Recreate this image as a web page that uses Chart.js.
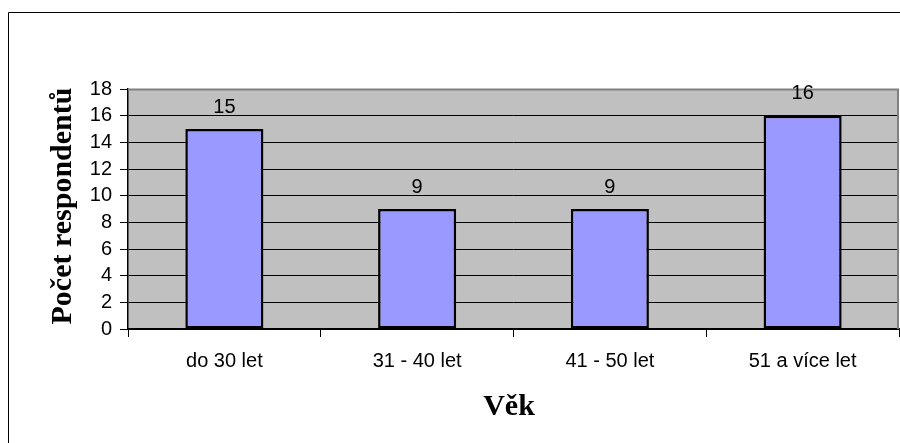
<!DOCTYPE html>
<html>
<head>
<meta charset="utf-8">
<script src="https://cdn.jsdelivr.net/npm/chart.js@4/dist/chart.umd.min.js"></script>
<style>
  html, body { margin: 0; padding: 0; background: #fff; }
  #wrap { width: 900px; height: 443px; position: relative; }
</style>
</head>
<body>
<div id="wrap"><canvas id="ageChart"></canvas></div>
<script>
const categories = ["do 30 let", "31 - 40 let", "41 - 50 let", "51 a více let"];
const respondents = [15, 9, 9, 16];
const yTitle = "Počet respondentů";
const xTitle = "Věk";

const sansFont = "'Liberation Sans', Arial, sans-serif";
const serifFont = "'Liberation Serif', 'Times New Roman', serif";

// background, frame and plot fill
const backdrop = {
  id: "backdrop",
  beforeDraw(chart) {
    const { ctx, chartArea: a } = chart;
    ctx.save();
    ctx.fillStyle = "#c0c0c0";
    ctx.fillRect(a.left, a.top, a.right - a.left, a.bottom - a.top);
    ctx.strokeStyle = "#000";
    ctx.lineWidth = 1;
    ctx.beginPath();
    ctx.moveTo(8.5, 443);
    ctx.lineTo(8.5, 12.5);
    ctx.lineTo(900, 12.5);
    ctx.stroke();
    ctx.restore();
  },
  beforeDatasetsDraw(chart) {
    const { ctx, chartArea: a } = chart;
    ctx.save();
    ctx.strokeStyle = "#808080";
    ctx.lineWidth = 2;
    ctx.beginPath();
    ctx.moveTo(a.left, a.top + 0.5);
    ctx.lineTo(a.right - 1, a.top + 0.5);
    ctx.lineTo(a.right - 1, a.bottom);
    ctx.stroke();
    ctx.restore();
  }
};

// value labels above the bars, axis titles
const labelsAndTitles = {
  id: "labelsAndTitles",
  afterDatasetsDraw(chart) {
    const { ctx } = chart;
    const meta = chart.getDatasetMeta(0);
    ctx.save();
    ctx.fillStyle = "#000";
    ctx.font = "20px " + sansFont;
    ctx.textAlign = "center";
    ctx.textBaseline = "middle";
    meta.data.forEach((bar, i) => {
      ctx.fillText(String(respondents[i]), bar.x, bar.y - 22);
    });

    ctx.font = "bold 30px " + serifFont;
    ctx.textBaseline = "alphabetic";
    ctx.fillText(xTitle, 509, 415);

    ctx.translate(71, 206);
    ctx.rotate(-Math.PI / 2);
    ctx.fillText(yTitle, 0, 0);
    ctx.restore();
  }
};

new Chart(document.getElementById("ageChart"), {
  type: "bar",
  data: {
    labels: categories,
    datasets: [{
      data: respondents,
      backgroundColor: "#9999ff",
      borderColor: "#000",
      borderWidth: 2.5,
      borderSkipped: false,
      categoryPercentage: 1,
      barPercentage: 0.405
    }]
  },
  options: {
    responsive: true,
    maintainAspectRatio: false,
    animation: false,
    layout: { padding: { top: 89, right: 1, left: 0, bottom: 0 } },
    plugins: {
      legend: { display: false },
      tooltip: { enabled: false }
    },
    scales: {
      x: {
        afterFit(scale) { scale.height = 114; },
        grid: {
          offset: true,
          drawOnChartArea: false,
          tickLength: 8,
          tickColor: "#000"
        },
        border: { color: "#000", width: 1.5 },
        ticks: {
          color: "#000",
          padding: 12,
          font: { family: sansFont, size: 20 }
        }
      },
      y: {
        min: 0,
        max: 18,
        afterFit(scale) { scale.width = 128; },
        grid: {
          color: (c) => (c.tick && c.tick.value === 18 ? "rgba(0,0,0,0)" : "#000"),
          tickLength: 8,
          tickColor: "#000"
        },
        border: { color: "#000", width: 1.5 },
        ticks: {
          stepSize: 2,
          autoSkip: false,
          color: "#000",
          padding: 8,
          font: { family: sansFont, size: 20 }
        }
      }
    }
  },
  plugins: [backdrop, labelsAndTitles]
});
</script>
</body>
</html>
